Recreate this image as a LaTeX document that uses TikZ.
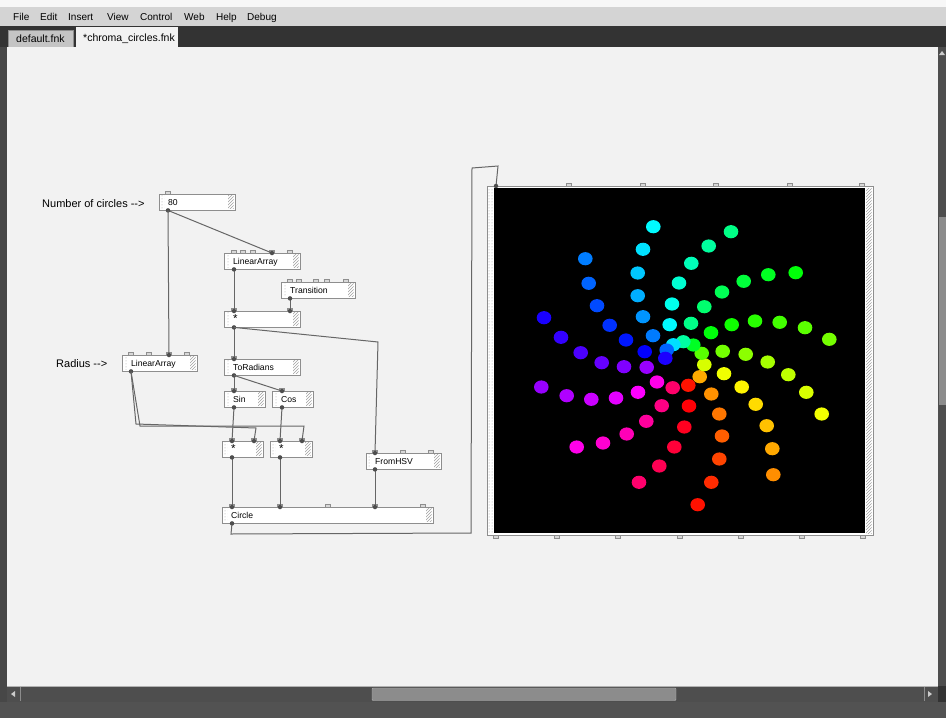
\documentclass[tikz,border=0pt]{standalone}
\usepackage{fontspec}
\setmainfont{Liberation Sans}
\usetikzlibrary{patterns}

\definecolor{paper}{HTML}{F2F2F2}
\definecolor{menubar}{HTML}{D4D4D4}
\definecolor{tabstrip}{HTML}{333333}
\definecolor{tabgrey}{HTML}{C4C4C4}
\definecolor{boxedge}{HTML}{8E8E8E}
\definecolor{wirecol}{HTML}{666666}
\definecolor{portcol}{HTML}{4E4E4E}
\definecolor{tabfill}{HTML}{D8D8D8}
\definecolor{barcol}{HTML}{4E4E4E}
\definecolor{thumbcol}{HTML}{8C8C8C}
\definecolor{gripcol}{HTML}{A0A0A0}

\tikzset{
  blk/.style={draw=boxedge, fill=white, line width=0.9pt, minimum height=15.5, inner sep=0, anchor=north west},
  lbl/.style={font=\fontsize{8.6}{9}\selectfont, anchor=base west, inner sep=0},
  note/.style={font=\fontsize{11}{13}\selectfont, anchor=base west, inner sep=0},
  menu/.style={font=\fontsize{10}{11}\selectfont, anchor=base west, inner sep=0},
  tabtext/.style={font=\fontsize{10.5}{12}\selectfont, anchor=base west, inner sep=0},
  wire/.style={draw=wirecol, line width=1pt},
  port/.style={circle, fill=portcol, inner sep=0, minimum size=4.5},
  tab/.style={fill=tabfill, draw=boxedge, line width=0.5pt},
}
\newcommand{\mult}{{\fontsize{11.5}{11}\selectfont *}}

% name, x, y, width, label, input tabs
\newcommand{\fnkbox}[6]{%
  \foreach \t in {#6} \filldraw[tab] (#2+\t-2.5,#3-2.8) rectangle (#2+\t+2.5,#3+0.5);
  \node[blk, minimum width=#4] (#1) at (#2,#3) {};
  \fill[pattern=dots, pattern color=gripcol] (#2+1.5,#3+1.5) rectangle (#2+5.5,#3+14);
  \fill[pattern=north east lines, pattern color=gripcol] (#2+#4-7,#3+1.5) rectangle (#2+#4-1.5,#3+14);
  \node[lbl] at (#2+9,#3+11.2) {#5};
}

\begin{document}
\begin{tikzpicture}[x=1pt, y=-1pt]
\useasboundingbox (0,0) rectangle (946,718);

% window chrome
\fill[paper!60!white] (0,0) rectangle (946,7);
\fill[menubar] (0,7) rectangle (946,26);
\foreach \w/\px in {File/13, Edit/40, Insert/68, View/107, Control/140, Web/184, Help/216, Debug/247}
  \node[menu] at (\px,20) {\w};
\fill[tabstrip] (0,26) rectangle (946,47);
\filldraw[fill=tabgrey, draw=boxedge] (8,30) rectangle (73,47.5);
\node[tabtext] at (16,42.5) {default.fnk};
\fill[paper] (76,27) rectangle (178,48);
\node[tabtext] at (83,41) {*chroma\_circles.fnk};
\fill[paper] (7,47) rectangle (938,686);
\fill[tabstrip!90!white] (0,47) rectangle (7,702);

% scrollbars
\fill[barcol] (938,47) rectangle (946,686);
\fill[thumbcol] (939,217) rectangle (946,405);
\fill[white!80!black] (942,51) -- (945,55) -- (939,55) -- cycle;
\fill[barcol] (7,686) rectangle (938,702);
\draw[white!70!black] (7,686.5) -- (938,686.5);
\draw[white!55!black] (20,687) -- (20,701) (924,687) -- (924,701);
\fill[white!80!black] (11,694) -- (15,691) -- (15,697) -- cycle;
\fill[white!80!black] (932,694) -- (928,691) -- (928,697) -- cycle;
\filldraw[fill=thumbcol, draw=white!70!black, rounded corners=1] (372,688) rectangle (676,700.5);
\fill[tabstrip!85!white] (0,702) rectangle (946,718);
\fill[tabstrip] (938,686) rectangle (946,702);

% labels
\node[note] (ncirc) at (42,207) {Number of circles -{}-{}>};
\node[note] (nrad) at (56,367) {Radius -{}-{}>};

% boxes
\fnkbox{num}{159}{194}{76}{80}{9}
\fnkbox{linA}{224}{253}{76}{LinearArray}{10,19,29,48,66}
\fnkbox{trans}{281}{282}{74}{Transition}{9,18,35,46,65}
\fnkbox{mulA}{224}{311}{76}{\mult}{10,66}
\fnkbox{torad}{224}{359}{76}{ToRadians}{10}
\fnkbox{linB}{122}{355}{75}{LinearArray}{9,27,47,65}
\fnkbox{sin}{224}{391}{41}{Sin}{10}
\fnkbox{cos}{272}{391}{41}{Cos}{10}
\fnkbox{mulB}{222}{441}{41}{\mult}{10,32}
\fnkbox{mulC}{270}{441}{42}{\mult}{10,32}
\fnkbox{hsv}{366}{453}{75}{FromHSV}{9,37,65}
\fnkbox{circ}{222}{507}{211}{Circle}{10,58,106,153,201}

% canvas
\foreach \t in {82,156,229,303,375} \filldraw[tab] (487+\t-2.5,183.2) rectangle (487+\t+2.5,186.5);
\foreach \t in {9,70,131,193,254,315,376} \filldraw[tab] (487+\t-2.5,534.5) rectangle (487+\t+2.5,537.8);
\node[blk, minimum width=386, minimum height=349] (canvas) at (487,186) {};
\fill[black] (494,188) rectangle (865,533);
\fill[pattern=dots, pattern color=gripcol] (488.5,188) rectangle (493.5,533);
\fill[pattern=north east lines, pattern color=gripcol] (866,188) rectangle (871.5,533);

% circles on the canvas
\begin{scope}
\clip (494,188) rectangle (865,533);
\foreach \x/\y [count=\i from 0] in {
  699.7/376.7, 704.3/364.7, 701.7/353.3, 693.3/345, 683.3/341.7, 673.3/344.7,
  666.7/350, 665.3/358.3, 646.7/367.3, 657/382, 672.7/387.7, 688.3/385.3,
  711.3/394, 724/373.7, 722.7/351.3, 711/332.7, 691/323.3, 669.7/324.7,
  653/335.7, 644.7/351.7, 624/366.7, 638/392.3, 661.7/405.7, 689/406,
  719.3/414, 741.7/387, 745.7/354.3, 731.7/324.7, 704.3/306.7, 672/304,
  643/316.7, 626/340, 601.7/362.7, 616/398, 646.3/421.3, 684.3/427,
  722/436, 755.7/404.3, 767.7/362, 755/321, 722/292, 679/283,
  637.7/295.7, 609.7/325.3, 580.7/352.7, 591.3/399.3, 626.7/434, 674.3/447,
  719.3/459, 766.7/425.7, 788.3/374.7, 779.7/322.3, 743.7/281.3, 691.3/263.3,
  637.7/273, 597/305.7, 561/337.3, 566.7/395.7, 603/443, 659.3/466,
  711.3/482.3, 772.3/448.7, 806.3/392.3, 805/327.7, 768.3/274.7, 708.7/246,
  643/249.3, 588.7/283.3, 544/317.7, 541.3/387, 576.7/447, 639/482.3,
  697.7/504.7, 773.3/474.7, 821.7/414, 829.3/339.3, 795.7/272.7, 731/231.7,
  653.3/226.7, 585.3/258.7} {
  \pgfmathsetmacro\hue{mod(40+29.5*\i,360)}
  \definecolor{dotcol}{Hsb}{\hue,1,1}
  \fill[dotcol] (\x,\y) ellipse [x radius=7.3, y radius=6.6];
}
\end{scope}

% wires
\coordinate (bend) at (378,342);
\coordinate (r1) at (136,424);
\coordinate (r2) at (256,428);
\coordinate (r3) at (140,426);
\coordinate (r4) at (304,426);
\coordinate (o1) at (231,534);
\coordinate (o2) at (471,533);
\coordinate (o3) at (472,168);
\coordinate (o4) at (498,166);

\draw[wire] ([xshift=9pt]num.south west) node[port]{} -- ([xshift=48pt]linA.north west) node[port]{};
\draw[wire] ([xshift=9pt]num.south west) -- ([xshift=47pt]linB.north west) node[port]{};
\draw[wire] ([xshift=10pt]linA.south west) node[port]{} -- ([xshift=10pt]mulA.north west) node[port]{};
\draw[wire] ([xshift=9pt]trans.south west) node[port]{} -- ([xshift=66pt]mulA.north west) node[port]{};
\draw[wire] ([xshift=10pt]mulA.south west) node[port]{} -- ([xshift=10pt]torad.north west) node[port]{};
\draw[wire] ([xshift=10pt]mulA.south west) -- (bend) -- ([xshift=9pt]hsv.north west) node[port]{};
\draw[wire] ([xshift=10pt]torad.south west) node[port]{} -- ([xshift=10pt]sin.north west) node[port]{};
\draw[wire] ([xshift=10pt]torad.south west) -- ([xshift=10pt]cos.north west) node[port]{};
\draw[wire] ([xshift=9pt]linB.south west) node[port]{} -- (r1) -- (r2) -- ([xshift=32pt]mulB.north west) node[port]{};
\draw[wire] ([xshift=9pt]linB.south west) -- (r3) -- (r4) -- ([xshift=32pt]mulC.north west) node[port]{};
\draw[wire] ([xshift=10pt]sin.south west) node[port]{} -- ([xshift=10pt]mulB.north west) node[port]{};
\draw[wire] ([xshift=10pt]cos.south west) node[port]{} -- ([xshift=10pt]mulC.north west) node[port]{};
\draw[wire] ([xshift=10pt]mulB.south west) node[port]{} -- ([xshift=10pt]circ.north west) node[port]{};
\draw[wire] ([xshift=10pt]mulC.south west) node[port]{} -- ([xshift=58pt]circ.north west) node[port]{};
\draw[wire] ([xshift=9pt]hsv.south west) node[port]{} -- ([xshift=153pt]circ.north west) node[port]{};
\draw[wire] ([xshift=10pt]circ.south west) node[port]{} -- (o1) -- (o2) -- (o3) -- (o4) -- ([xshift=9pt]canvas.north west) node[port]{};
\end{tikzpicture}
\end{document}
